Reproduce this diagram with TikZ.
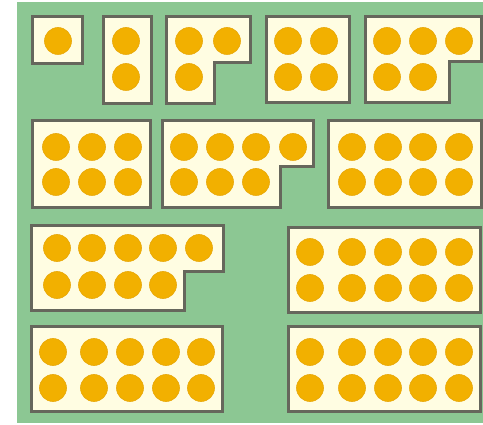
\documentclass[tikz,border=0pt]{standalone}
\definecolor{bg}{HTML}{8CC793}
\definecolor{tilefill}{HTML}{FFFDE2}
\definecolor{tileline}{HTML}{66675C}
\definecolor{dotc}{HTML}{F2B000}
\definecolor{dotedge}{HTML}{E8A80A}
\tikzset{
  tile/.style={fill=tilefill, draw=tileline, line width=3pt, line join=miter},
  dotty/.style={fill=dotc, draw=dotedge, line width=0.6pt}
}
\newcommand{\dotsat}[2]{\foreach \xx in {#1}{\foreach \yy in {#2}{\fill[dotty] (\xx,\yy) circle (13.5);}}}
\begin{document}
\begin{tikzpicture}[x=1pt,y=-1pt]
\useasboundingbox (0,0) rectangle (483,425);
\fill[white] (0,0) rectangle (483,425);
\fill[bg] (17,2) rectangle (483,423);
% row 1
\draw[tile] (32,17) rectangle (82,64);
\dotsat{58}{41}
\draw[tile] (103,17) rectangle (151,104);
\dotsat{126}{41,77}
\draw[tile] (166,17) -- (250,17) -- (250,63) -- (214,63) -- (214,104) -- (166,104) -- cycle;
\dotsat{189,227}{41}
\dotsat{189}{77}
\draw[tile] (266,17) rectangle (349,103);
\dotsat{288,324}{41,77}
\draw[tile] (365,17) -- (481,17) -- (481,62) -- (449,62) -- (449,103) -- (365,103) -- cycle;
\dotsat{387,423,459}{41}
\dotsat{387,423}{77}
% row 2
\draw[tile] (32,121) rectangle (150,208);
\dotsat{56,92,128}{147,182}
\draw[tile] (162,121) -- (313,121) -- (313,167) -- (280,167) -- (280,208) -- (162,208) -- cycle;
\dotsat{184,220,256,293}{147}
\dotsat{184,220,256}{182}
\draw[tile] (328,121) rectangle (481,208);
\dotsat{352,388,423,459}{147,182}
% row 3
\draw[tile] (31,226) -- (223,226) -- (223,272) -- (184,272) -- (184,311) -- (31,311) -- cycle;
\dotsat{57,92,128,163,199}{248}
\dotsat{57,92,128,163}{285}
\draw[tile] (288,228) rectangle (480,313);
\dotsat{310,352,388,423,459}{252,288}
% row 4
\draw[tile] (31,327) rectangle (222,412);
\dotsat{53,94,130,166,201}{352,388}
\draw[tile] (288,327) rectangle (480,412);
\dotsat{310,352,388,423,459}{352,388}
\end{tikzpicture}
\end{document}
